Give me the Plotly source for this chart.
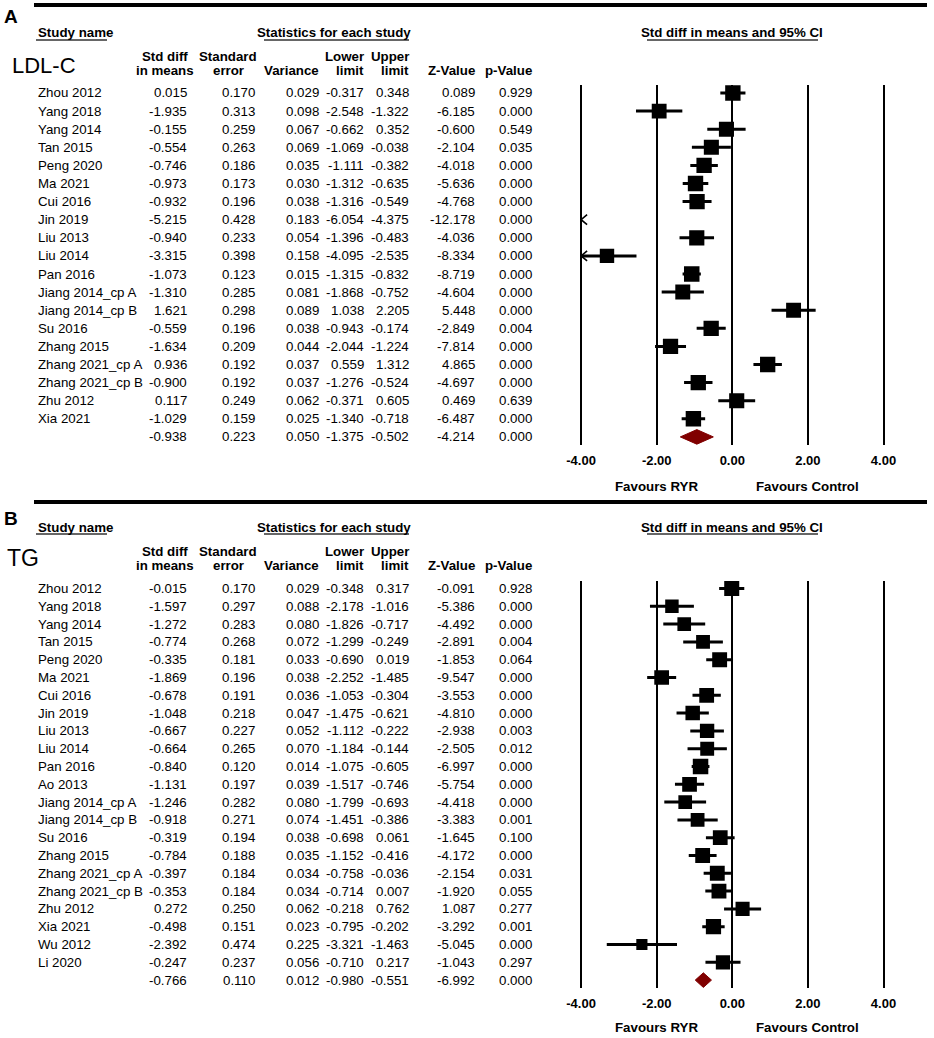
import numpy as np
import plotly.graph_objects as go

# ---------------- data: panel A (LDL-C) ----------------
studies_ldl = ["Zhou 2012", "Yang 2018", "Yang 2014", "Tan 2015", "Peng 2020", "Ma 2021",
               "Cui 2016", "Jin 2019", "Liu 2013", "Liu 2014", "Pan 2016", "Jiang 2014_cp A",
               "Jiang 2014_cp B", "Su 2016", "Zhang 2015", "Zhang 2021_cp A", "Zhang 2021_cp B",
               "Zhu 2012", "Xia 2021"]
smd_ldl = [0.015, -1.935, -0.155, -0.554, -0.746, -0.973, -0.932, -5.215, -0.940, -3.315,
           -1.073, -1.310, 1.621, -0.559, -1.634, 0.936, -0.900, 0.117, -1.029]
se_ldl = [0.170, 0.313, 0.259, 0.263, 0.186, 0.173, 0.196, 0.428, 0.233, 0.398,
          0.123, 0.285, 0.298, 0.196, 0.209, 0.192, 0.192, 0.249, 0.159]
var_ldl = [0.029, 0.098, 0.067, 0.069, 0.035, 0.030, 0.038, 0.183, 0.054, 0.158,
           0.015, 0.081, 0.089, 0.038, 0.044, 0.037, 0.037, 0.062, 0.025]
lower_ldl = [-0.317, -2.548, -0.662, -1.069, -1.111, -1.312, -1.316, -6.054, -1.396, -4.095,
             -1.315, -1.868, 1.038, -0.943, -2.044, 0.559, -1.276, -0.371, -1.340]
upper_ldl = [0.348, -1.322, 0.352, -0.038, -0.382, -0.635, -0.549, -4.375, -0.483, -2.535,
             -0.832, -0.752, 2.205, -0.174, -1.224, 1.312, -0.524, 0.605, -0.718]
zval_ldl = [0.089, -6.185, -0.600, -2.104, -4.018, -5.636, -4.768, -12.178, -4.036, -8.334,
            -8.719, -4.604, 5.448, -2.849, -7.814, 4.865, -4.697, 0.469, -6.487]
pval_ldl = [0.929, 0.000, 0.549, 0.035, 0.000, 0.000, 0.000, 0.000, 0.000, 0.000,
            0.000, 0.000, 0.000, 0.004, 0.000, 0.000, 0.000, 0.639, 0.000]
# pooled: smd, se, variance, lower, upper, z, p
pooled_ldl = [-0.938, 0.223, 0.050, -1.375, -0.502, -4.214, 0.000]

# ---------------- data: panel B (TG) ----------------
studies_tg = ["Zhou 2012", "Yang 2018", "Yang 2014", "Tan 2015", "Peng 2020", "Ma 2021",
              "Cui 2016", "Jin 2019", "Liu 2013", "Liu 2014", "Pan 2016", "Ao 2013",
              "Jiang 2014_cp A", "Jiang 2014_cp B", "Su 2016", "Zhang 2015", "Zhang 2021_cp A",
              "Zhang 2021_cp B", "Zhu 2012", "Xia 2021", "Wu 2012", "Li 2020"]
smd_tg = [-0.015, -1.597, -1.272, -0.774, -0.335, -1.869, -0.678, -1.048, -0.667, -0.664,
          -0.840, -1.131, -1.246, -0.918, -0.319, -0.784, -0.397, -0.353, 0.272, -0.498,
          -2.392, -0.247]
se_tg = [0.170, 0.297, 0.283, 0.268, 0.181, 0.196, 0.191, 0.218, 0.227, 0.265,
         0.120, 0.197, 0.282, 0.271, 0.194, 0.188, 0.184, 0.184, 0.250, 0.151,
         0.474, 0.237]
var_tg = [0.029, 0.088, 0.080, 0.072, 0.033, 0.038, 0.036, 0.047, 0.052, 0.070,
          0.014, 0.039, 0.080, 0.074, 0.038, 0.035, 0.034, 0.034, 0.062, 0.023,
          0.225, 0.056]
lower_tg = [-0.348, -2.178, -1.826, -1.299, -0.690, -2.252, -1.053, -1.475, -1.112, -1.184,
            -1.075, -1.517, -1.799, -1.451, -0.698, -1.152, -0.758, -0.714, -0.218, -0.795,
            -3.321, -0.710]
upper_tg = [0.317, -1.016, -0.717, -0.249, 0.019, -1.485, -0.304, -0.621, -0.222, -0.144,
            -0.605, -0.746, -0.693, -0.386, 0.061, -0.416, -0.036, 0.007, 0.762, -0.202,
            -1.463, 0.217]
zval_tg = [-0.091, -5.386, -4.492, -2.891, -1.853, -9.547, -3.553, -4.810, -2.938, -2.505,
           -6.997, -5.754, -4.418, -3.383, -1.645, -4.172, -2.154, -1.920, 1.087, -3.292,
           -5.045, -1.043]
pval_tg = [0.928, 0.000, 0.000, 0.004, 0.064, 0.000, 0.000, 0.000, 0.003, 0.012,
           0.000, 0.000, 0.000, 0.001, 0.100, 0.000, 0.031, 0.055, 0.277, 0.001,
           0.000, 0.297]
pooled_tg = [-0.766, 0.110, 0.012, -0.980, -0.551, -6.992, 0.000]

# ---------------- labels ----------------
col_headers = [("Std diff", "in means"), ("Standard", "error"), ("", "Variance"),
               ("Lower", "limit"), ("Upper", "limit"), ("", "Z-Value"), ("", "p-Value")]
tick_vals = [-4, -2, 0, 2, 4]
tick_labels = ["-4.00", "-2.00", "0.00", "2.00", "4.00"]
favour_labels = ["Favours RYR", "Favours Control"]
favour_at = [-2, 2]

# ---------------- layout constants ----------------
W, H = 934, 1038
FONT = "Liberation Sans, Arial, Helvetica, sans-serif"
FS = 13.3
X0_PX, UNIT_PX = 732.3, 37.8
XR = (-4.6, 4.6)
CLIP = 4.0
col_right = [189, 257, 321, 366, 411, 477, 534]
# header anchor: (x in px, xanchor)
col_hdr_anchor = [(165, "center"), (228, "center"), (321, "right"), (366, "right"),
                  (411, "right"), (477, "right"), (534, "right")]
DIAMOND_COLOR = "#800000"


def px(xp):
    return xp / W


def py(yp):
    return 1 - yp / H


panels = [
    dict(off=0, row0=93.0, dy=18.1, top=85, bot=445, letter="A", letter_y=16,
         label="LDL-C", label_x=10, label_y=65, label_size=22, fav_y=486, ax="x", ay="y",
         data=(studies_ldl, smd_ldl, se_ldl, var_ldl, lower_ldl, upper_ldl, zval_ldl,
               pval_ldl, pooled_ldl)),
    dict(off=494, row0=588.5, dy=17.8, top=581, bot=988, letter="B", letter_y=518,
         label="TG", label_x=5, label_y=558, label_size=23, fav_y=1027, ax="x2", ay="y2",
         data=(studies_tg, smd_tg, se_tg, var_tg, lower_tg, upper_tg, zval_tg,
               pval_tg, pooled_tg)),
]

fig = go.Figure()
annotations = []
shapes = []


def txt(text, x, y, xref="paper", yref="paper", xanchor="left", size=FS, bold=False,
        align="left", yanchor="middle"):
    annotations.append(dict(
        text=text, x=x, y=y, xref=xref, yref=yref, xanchor=xanchor, yanchor=yanchor,
        showarrow=False, align=align,
        font=dict(family=FONT, size=size, color="black", weight="bold" if bold else "normal")))


def dl_weights(y, se):
    y = np.asarray(y, float)
    v = np.asarray(se, float) ** 2
    w = 1 / v
    ybar = np.sum(w * y) / np.sum(w)
    q = np.sum(w * (y - ybar) ** 2)
    c = np.sum(w) - np.sum(w ** 2) / np.sum(w)
    tau2 = max(0.0, (q - (len(y) - 1)) / c)
    return 1 / (v + tau2)


for P in panels:
    studies, smd, se, var, lo, hi, zv, pv, pooled = P["data"]
    off = P["off"]
    k = len(studies)
    ay, ax = P["ay"], P["ax"]
    axkey = "xaxis" + ax[1:]
    aykey = "yaxis" + ay[1:]

    # ---- header block ----
    txt("<b>" + P["letter"] + "</b>", px(2), py(P["letter_y"]), size=19)
    txt("Study name", px(36), py(off + 33), bold=True)
    txt("Statistics for each study", px(334), py(off + 33), xanchor="center", bold=True)
    txt("Std diff in means and 95% CI", 0, py(off + 33), xref=ax, xanchor="center", bold=True)
    for x0, x1 in [(36, 107), (264, 409), (647, 818)]:
        shapes.append(dict(type="line", xref="paper", yref="paper", x0=px(x0), x1=px(x1),
                           y0=py(off + 40), y1=py(off + 40),
                           line=dict(color="#333333", width=1.5)))
    txt(P["label"], px(P["label_x"]), py(P["label_y"]), size=P["label_size"])
    for (h1, h2), (hx, hanc) in zip(col_headers, col_hdr_anchor):
        if h1:
            txt(h1, px(hx), py(off + 57), xanchor=hanc, bold=True)
        txt(h2, px(hx), py(off + 71), xanchor=hanc, bold=True)

    # ---- table rows ----
    rows = list(range(k + 1))
    names = list(studies) + [""]
    cols = [list(smd) + [pooled[0]], list(se) + [pooled[1]], list(var) + [pooled[2]],
            list(lo) + [pooled[3]], list(hi) + [pooled[4]], list(zv) + [pooled[5]],
            list(pv) + [pooled[6]]]
    for r in rows:
        if names[r]:
            txt(names[r], px(36), r, yref=ay)
        for ci, xr in enumerate(col_right):
            txt(f"{cols[ci][r]:.3f}", px(xr), r, yref=ay, xanchor="right")

    # ---- forest ----
    w = dl_weights(smd, se)
    sizes = 15.5 * np.sqrt(w / w.max())
    lx, ly = [], []
    arx, ary = [], []
    mx, my, ms = [], [], []
    adx = 6 / UNIT_PX
    ady = 5 / P["dy"]
    for r in range(k):
        a, b = max(lo[r], -CLIP), min(hi[r], CLIP)
        if b > a:
            lx += [a, b, None]
            ly += [r, r, None]
        if lo[r] < -CLIP:
            arx += [-CLIP + adx, -CLIP, -CLIP + adx, None]
            ary += [r - ady, r, r + ady, None]
        if hi[r] > CLIP:
            arx += [CLIP - adx, CLIP, CLIP - adx, None]
            ary += [r - ady, r, r + ady, None]
        if -CLIP <= smd[r] <= CLIP:
            mx.append(smd[r])
            my.append(r)
            ms.append(sizes[r])
    fig.add_trace(go.Scatter(x=lx, y=ly, mode="lines", xaxis=ax, yaxis=ay,
                             line=dict(color="black", width=3), hoverinfo="skip",
                             showlegend=False))
    if arx:
        fig.add_trace(go.Scatter(x=arx, y=ary, mode="lines", xaxis=ax, yaxis=ay,
                                 line=dict(color="black", width=1.6), hoverinfo="skip",
                                 showlegend=False))
    fig.add_trace(go.Scatter(x=mx, y=my, mode="markers", xaxis=ax, yaxis=ay,
                             marker=dict(symbol="square", size=ms, color="black",
                                         opacity=1, line=dict(width=0)),
                             showlegend=False))
    hd = 7.3 / P["dy"]
    fig.add_trace(go.Scatter(x=[pooled[3], pooled[0], pooled[4], pooled[0], pooled[3]],
                             y=[k, k - hd, k, k + hd, k], mode="lines", fill="toself",
                             fillcolor=DIAMOND_COLOR, line=dict(color=DIAMOND_COLOR, width=1),
                             xaxis=ax, yaxis=ay, showlegend=False))

    for lab, xv in zip(favour_labels, favour_at):
        txt(lab, xv, py(P["fav_y"]), xref=ax, xanchor="center", bold=True)

    fig.layout[axkey] = dict(
        domain=[px(X0_PX + XR[0] * UNIT_PX), px(X0_PX + XR[1] * UNIT_PX)],
        range=list(XR), anchor=ay, tickvals=tick_vals, ticktext=tick_labels,
        showgrid=True, gridcolor="black", gridwidth=2, zeroline=False, showline=False,
        ticks="outside", ticklen=3, tickcolor="rgba(0,0,0,0)",
        tickfont=dict(family=FONT, size=13, color="black", weight="bold"))
    fig.layout[aykey] = dict(
        domain=[py(P["bot"]), py(P["top"])],
        range=[(P["bot"] - P["row0"]) / P["dy"], (P["top"] - P["row0"]) / P["dy"]],
        anchor=ax, visible=False)

# horizontal rules
for yy in [5, 502]:
    shapes.append(dict(type="line", xref="paper", yref="paper", x0=px(34), x1=px(927),
                       y0=py(yy), y1=py(yy), line=dict(color="black", width=4)))

fig.update_layout(width=W, height=H, margin=dict(l=0, r=0, t=0, b=0),
                  paper_bgcolor="white", plot_bgcolor="white",
                  annotations=annotations, shapes=shapes, showlegend=False,
                  font=dict(family=FONT, color="black"))
fig.write_html("out.html", config={"displayModeBar": False},
               post_script="document.body.style.margin='0px';"
                           "document.body.style.overflow='hidden';")
